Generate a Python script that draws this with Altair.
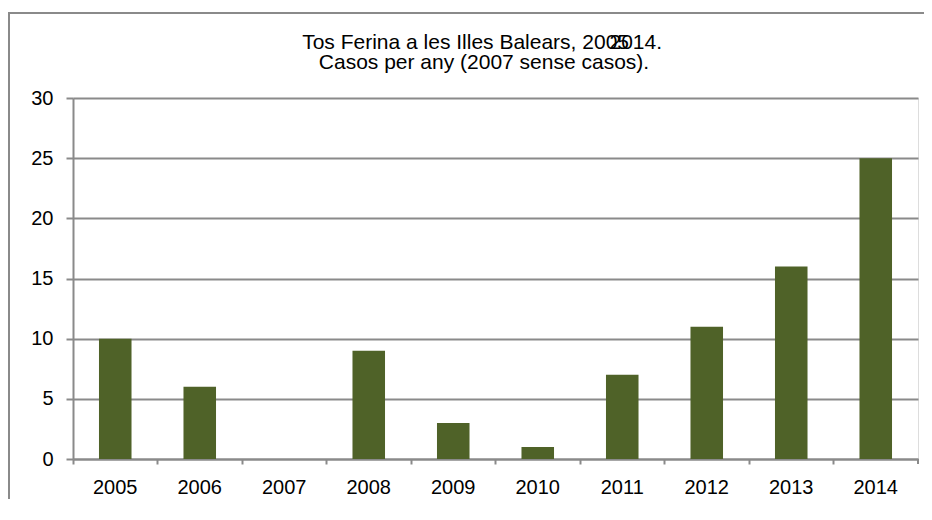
import altair as alt
import pandas as pd

years = ["2005", "2006", "2007", "2008", "2009", "2010", "2011", "2012", "2013", "2014"]
cases = [10, 6, 0, 9, 3, 1, 7, 11, 16, 25]

title_a = "Tos Ferina a les Illes Balears, 2005"
title_b = "2014."
subtitle = "Casos per any (2007 sense casos)."

df = pd.DataFrame({"year": years, "cases": cases})
one = pd.DataFrame({"k": [0]})

FONT = "Liberation Sans"
GRAY = "#8a8a8a"
W, H = 845, 361

x_enc = alt.X(
    "year:N",
    title=None,
    sort=years,
    scale=alt.Scale(paddingInner=0, paddingOuter=0),
    axis=alt.Axis(
        bandPosition=0, grid=False, labelAngle=0, tickSize=5, tickWidth=2,
        tickColor=GRAY, domainColor=GRAY, domainWidth=2, labelFontSize=20,
        labelFont=FONT, labelColor="#000", labelPadding=13,
    ),
)
y_enc = alt.Y(
    "cases:Q",
    title=None,
    scale=alt.Scale(domain=[0, 30], nice=False),
    axis=alt.Axis(
        values=[0, 5, 10, 15, 20, 25, 30], grid=True, gridColor=GRAY, gridWidth=2,
        tickSize=7, tickWidth=2, tickColor=GRAY, domainColor=GRAY, domainWidth=2,
        labelFontSize=20, labelFont=FONT, labelColor="#000", labelPadding=13,
    ),
)

bars = alt.Chart(df).mark_bar(
    color="#4F6228", width=alt.RelativeBandSize(0.385)
).encode(x=x_enc, y=y_enc)

border_top = alt.Chart(one).mark_rect(color=GRAY, strokeWidth=0).encode(
    x=alt.value(-65), x2=alt.value(W + 6), y=alt.value(-86), y2=alt.value(-84)
)
border_left = alt.Chart(one).mark_rect(color=GRAY, strokeWidth=0).encode(
    x=alt.value(-65), x2=alt.value(-63), y=alt.value(-86), y2=alt.value(H + 40)
)

end_tick = alt.Chart(one).mark_rule(color=GRAY, strokeWidth=2).encode(
    x=alt.value(W), y=alt.value(H), y2=alt.value(H + 5)
)

t_a = alt.Chart(one).mark_text(
    text=title_a, font=FONT, fontSize=21, align="right", baseline="alphabetic", color="#000"
).encode(x=alt.value(556), y=alt.value(-49))
t_b = alt.Chart(one).mark_text(
    text=title_b, font=FONT, fontSize=21, align="left", baseline="alphabetic", color="#000"
).encode(x=alt.value(536.5), y=alt.value(-49))
t_c = alt.Chart(one).mark_text(
    text=subtitle, font=FONT, fontSize=21, align="center", baseline="alphabetic", color="#000"
).encode(x=alt.value(411), y=alt.value(-29))

chart = alt.layer(bars, border_top, border_left, end_tick, t_a, t_b, t_c).properties(
    width=W, height=H,
    autosize=alt.AutoSizeParams(type="none"),
    padding={"left": 65, "top": 90, "right": 6, "bottom": 40},
).configure_view(stroke=None).configure(background="white")

chart.save("out.html", embed_options={"renderer": "svg", "actions": False})
